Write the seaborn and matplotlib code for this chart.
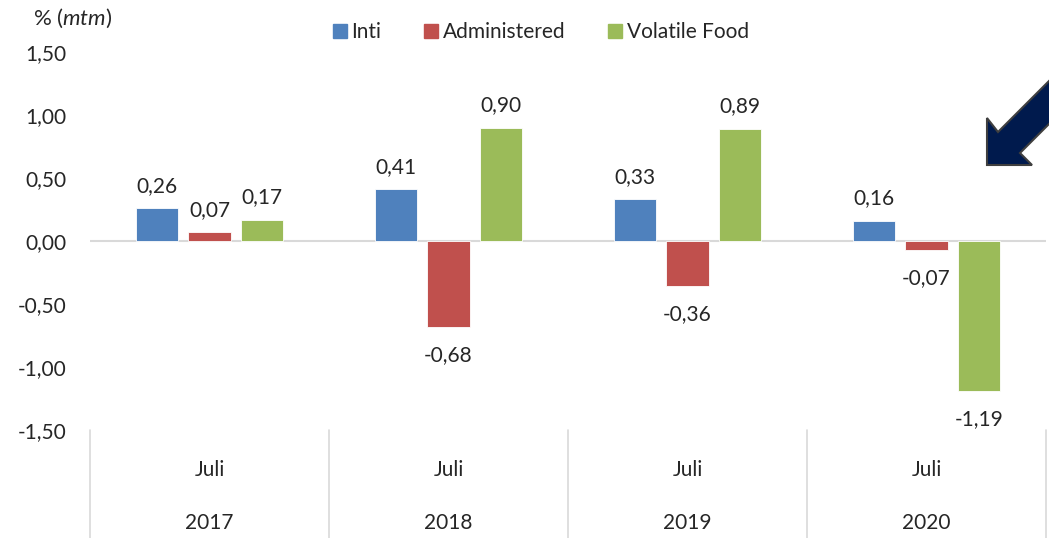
import numpy as np
import pandas as pd
import matplotlib
matplotlib.use("Agg")
import matplotlib.pyplot as plt
import seaborn as sns
from matplotlib.patches import Polygon
from matplotlib.lines import Line2D

years = ["2017", "2018", "2019", "2020"]
months = ["Juli", "Juli", "Juli", "Juli"]
series = ["Inti", "Administered", "Volatile Food"]
inti = [0.26, 0.41, 0.33, 0.16]
administered = [0.07, -0.68, -0.36, -0.07]
volatile_food = [0.17, 0.90, 0.89, -1.19]
colors = ["#4F81BD", "#C0504D", "#9BBB59"]
yticks = [-1.5, -1.0, -0.5, 0.0, 0.5, 1.0, 1.5]

sns.set_theme(style="white")
plt.rcParams["font.family"] = ["Lato", "DejaVu Sans"]
plt.rcParams["mathtext.fontset"] = "custom"
plt.rcParams["mathtext.it"] = "Lato:italic"
plt.rcParams["mathtext.rm"] = "Lato"

rows = []
for i, y in enumerate(years):
    for s, vals in zip(series, [inti, administered, volatile_food]):
        rows.append({"year": y, "series": s, "value": vals[i]})
df = pd.DataFrame(rows)

FS = 15
W, H = 1049, 538
fig = plt.figure(figsize=(W / 100, H / 100), dpi=100)
ax = fig.add_axes([90 / W, (H - 430) / H, (1046 - 90) / W, (430 - 52) / H])

sns.barplot(data=df, x="year", y="value", hue="series", order=years,
            hue_order=series, palette=colors, width=0.66, gap=0.2,
            saturation=1, ax=ax, legend=False, edgecolor="white", linewidth=0.6)

ax.set_xlim(-0.5, 3.5)
ax.set_ylim(-1.5, 1.5)
ax.set_yticks(yticks)
ax.set_yticklabels([f"{v:.2f}".replace(".", ",") for v in yticks], fontsize=FS)
ax.tick_params(axis="y", length=0, pad=17)
ax.tick_params(axis="x", length=0)
ax.set_xticks([])
ax.set_xlabel("")
ax.set_ylabel("")
for sp in ax.spines.values():
    sp.set_visible(False)

ax.axhline(0, color="#D9D9D9", lw=1.5, zorder=0)

# data labels
for cont in ax.containers:
    for bar in cont:
        v = bar.get_height()
        xc = bar.get_x() + bar.get_width() / 2
        txt = f"{v:.2f}".replace(".", ",")
        if v >= 0:
            ax.annotate(txt, (xc, v), xytext=(0, 9), textcoords="offset points",
                        ha="center", va="bottom", fontsize=FS)
        else:
            ax.annotate(txt, (xc, v), xytext=(0, -13), textcoords="offset points",
                        ha="center", va="top", fontsize=FS)

# category axis (two-level)
trans = ax.get_xaxis_transform()
for xs in np.arange(-0.5, 4.0, 1.0):
    ax.plot([xs, xs], [0, -0.35], transform=trans, color="#D9D9D9", lw=1.2,
            clip_on=False)
for i, (m, y) in enumerate(zip(months, years)):
    ax.text(i, -0.105, m, transform=trans, ha="center", va="center", fontsize=FS)
    ax.text(i, -0.245, y, transform=trans, ha="center", va="center", fontsize=FS)

# y-axis unit label
fig.text(33 / W, 1 - 18 / H, r"% ($\mathit{mtm}$)", ha="left", va="center", fontsize=16)

# legend
handles = [Line2D([0], [0], marker="s", color="none", markerfacecolor=c,
                  markeredgecolor=c, markersize=10) for c in colors]
fig.legend(handles, series, loc="center", bbox_to_anchor=(539 / W, 1 - 32 / H),
           ncol=3, frameon=False, fontsize=FS, handletextpad=0.05,
           columnspacing=1.9, handlelength=1.0)

# decorative arrow (pixel coords, y measured from top)
pts = [(987, 165), (987, 118), (998, 132), (1066, 64), (1088, 85),
       (1020, 153), (1032, 165)]
pts_fig = [(x / W, 1 - y / H) for x, y in pts]
fig.patches.append(Polygon(pts_fig, closed=True, transform=fig.transFigure,
                           facecolor="#001A4D", edgecolor="#3F3F3F", lw=1.5,
                           zorder=10))

fig.savefig("out.png", dpi=100)
